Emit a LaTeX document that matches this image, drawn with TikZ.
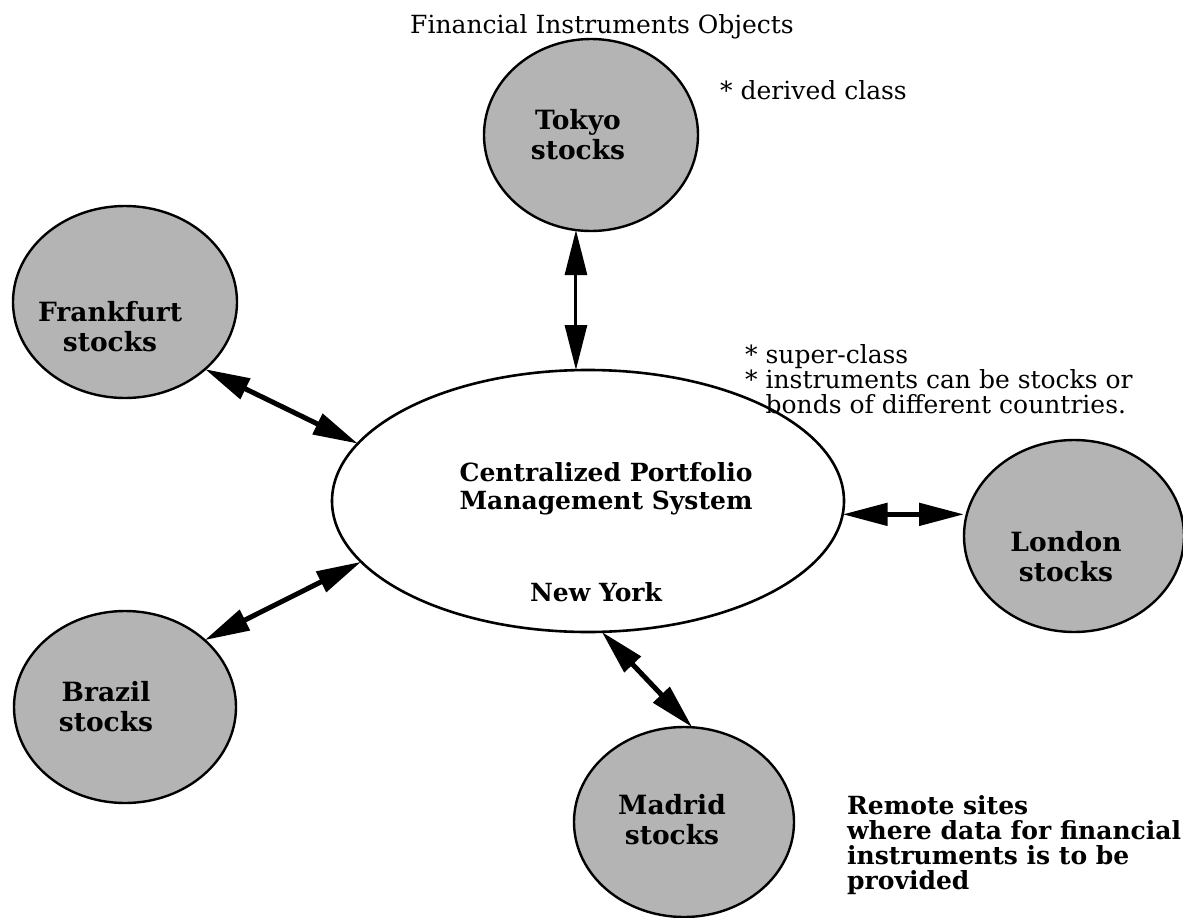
\documentclass[tikz,border=0pt]{standalone}
\usepackage{fontspec}
\setmainfont{DejaVu Serif}
\usetikzlibrary{arrows.meta,shapes.geometric}
\definecolor{dotfill}{RGB}{180,180,180}
\begin{document}
\begin{tikzpicture}[x=1pt,y=-1pt,
  site/.style={ellipse, draw=black, line width=2.4pt, fill=dotfill,
    inner sep=0pt, outer sep=0pt},
  hub/.style={ellipse, draw=black, line width=2.6pt, fill=white,
    inner sep=0pt, outer sep=0pt, minimum width=512pt, minimum height=262pt},
  sitetext/.style={font=\fontsize{26.5}{30}\selectfont\bfseries,
    align=center, inner sep=0pt},
  note/.style={font=\fontsize{25}{25}\selectfont, align=left,
    inner sep=0pt, anchor=north west},
  link/.style={line width=5pt,
    {Triangle[length=45pt,width=22pt]}-{Triangle[length=45pt,width=22pt]}},
]
\useasboundingbox (0,0) rectangle (1183,918);

% remote sites
\node[site, minimum width=214pt, minimum height=192pt] (tokyo)  at (591,135) {};
\node[site, minimum width=224pt, minimum height=192pt] (frank)  at (125,302) {};
\node[site, minimum width=220pt, minimum height=192pt] (london) at (1074,536) {};
\node[site, minimum width=222pt, minimum height=192pt] (brazil) at (125,707) {};
\node[site, minimum width=220pt, minimum height=190pt] (madrid) at (684,822) {};

% central system
\node[hub] (cps) at (588,501) {};

% labels inside the ellipses
\node[sitetext] (tokyoLbl)  at (578,135)  {Tokyo\\stocks};
\node[sitetext] (frankLbl)  at (110,327)  {Frankfurt\\stocks};
\node[sitetext] (londonLbl) at (1066,557) {London\\stocks};
\node[sitetext] (brazilLbl) at (106,707)  {Brazil\\stocks};
\node[sitetext] (madridLbl) at (672,820)  {Madrid\\stocks};
\node[sitetext, font=\fontsize{25}{28}\selectfont\bfseries] (cpsLbl) at (606,489)
  {Centralized Portfolio\\Management System};
\node[sitetext, font=\fontsize{25}{28}\selectfont\bfseries] (nyLbl) at (596,592) {New York};

% two-way links
\draw[link, line width=3pt] (tokyo.261) -- (tokyo.261 |- cps.north);
\draw[link] (frank.320) -- (cps.166);
\draw[link] (brazil.40) -- (cps.195);
\draw[link] (cps.357) -- (cps.357 -| london.west);
\draw[link] (cps.276) -- (madrid.85);

% annotations
\node[note, anchor=north] (title) at (602,14) {Financial Instruments Objects};
\node[note] (derivedNote) at (720,80) {* derived class};
\node[note] (superNote) at (745,344)
  {* super-class\\* instruments can be stocks or\\\phantom{*\ }bonds of different countries.};
\node[note, font=\fontsize{25}{25}\selectfont\bfseries] (remoteNote) at (847,795)
  {Remote sites\\where data for financial\\instruments is to be\\provided};
\end{tikzpicture}
\end{document}
